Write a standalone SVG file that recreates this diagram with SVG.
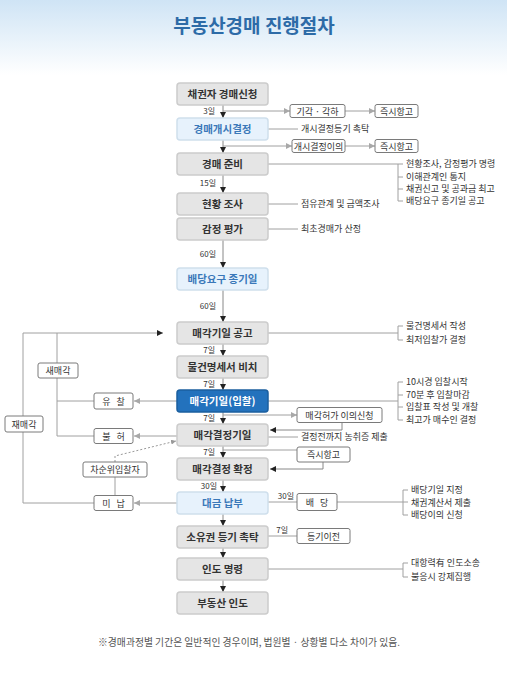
<svg xmlns="http://www.w3.org/2000/svg" width="507" height="677" viewBox="0 0 507 677">
<defs>
<linearGradient id="bg" x1="0" y1="0" x2="0" y2="1">
<stop offset="0" stop-color="#cfe4f5"/>
<stop offset="1" stop-color="#ffffff"/>
</linearGradient>
<marker id="ab" markerUnits="userSpaceOnUse" markerWidth="6" markerHeight="6" refX="6" refY="3" orient="auto">
<path d="M0,0 L6,3 L0,6 z" fill="#222"/>
</marker>
<marker id="ag" markerUnits="userSpaceOnUse" markerWidth="6" markerHeight="6" refX="6" refY="3" orient="auto">
<path d="M0,0 L6,3 L0,6 z" fill="#a8a8a8"/>
</marker>
<marker id="as" markerUnits="userSpaceOnUse" markerWidth="5" markerHeight="5" refX="5" refY="2.5" orient="auto">
<path d="M0,0 L5,2.5 L0,5 z" fill="#999"/>
</marker>
<style>
text{font-family:"Noto Sans CJK KR","Noto Sans",sans-serif;}
.m rect{fill:#e5e5e5;stroke:#cccccc;stroke-width:1.5;}
.m text{font-size:10.5px;font-weight:bold;fill:#333;text-anchor:middle;}
.lb rect{fill:#e7f2fc;stroke:#cfdfec;stroke-width:1.5;}
.lb text{font-size:10.5px;font-weight:bold;fill:#3a78b9;text-anchor:middle;}
.db rect{fill:#2372bd;stroke:#1b5f9f;stroke-width:1.5;}
.db text{font-size:10.5px;font-weight:bold;fill:#ffffff;text-anchor:middle;}
.s rect{fill:#ffffff;stroke:#7a7a7a;stroke-width:1;}
.s text{font-size:9px;fill:#333;text-anchor:middle;}
.t{font-size:9px;fill:#333;}
.d{font-size:8px;fill:#333;text-anchor:end;}
.ln{stroke:#a0a0a0;stroke-width:1;fill:none;}
.lk{stroke:#888;stroke-width:1;fill:none;}
</style>
</defs>
<rect x="0" y="0" width="507" height="677" fill="#ffffff"/>
<rect x="0" y="0" width="507" height="75" fill="url(#bg)"/>
<text x="254" y="33" text-anchor="middle" style="font-size:19px;font-weight:bold;fill:#2d6ba7;">부동산경매 진행절차</text>

<g id="connectors">
<line class="lk" x1="223" y1="105" x2="223" y2="118" marker-end="url(#ab)"/>
<line class="ln" x1="223" y1="111" x2="290" y2="111" marker-end="url(#ag)"/>
<line class="ln" x1="345" y1="111" x2="375" y2="111" marker-end="url(#ag)"/>
<line class="lk" x1="223" y1="140" x2="223" y2="153" marker-end="url(#ab)"/>
<line class="ln" x1="223" y1="146" x2="292" y2="146" marker-end="url(#ag)"/>
<line class="ln" x1="345" y1="146" x2="375" y2="146" marker-end="url(#ag)"/>
<line class="lk" x1="223" y1="175" x2="223" y2="193" marker-end="url(#ab)"/>
<line class="lk" x1="223" y1="240" x2="223" y2="268" marker-end="url(#ab)"/>
<line class="lk" x1="223" y1="290" x2="223" y2="322" marker-end="url(#ab)"/>
<line class="lk" x1="223" y1="344" x2="223" y2="356" marker-end="url(#ab)"/>
<line class="lk" x1="223" y1="378" x2="223" y2="390" marker-end="url(#ab)"/>
<line class="lk" x1="223" y1="412" x2="223" y2="424" marker-end="url(#ab)"/>
<line class="ln" x1="223" y1="415" x2="297" y2="415" marker-end="url(#ag)"/>
<polyline class="lk" points="342,422 342,430 270,430" marker-end="url(#ab)"/>
<line class="lk" x1="223" y1="446" x2="223" y2="458" marker-end="url(#ab)"/>
<line class="ln" x1="223" y1="450" x2="297" y2="450"/>
<polyline class="lk" points="323,462 323,469 270,469" marker-end="url(#ab)"/>
<line class="lk" x1="223" y1="480" x2="223" y2="492" marker-end="url(#ab)"/>
<line class="lk" x1="223" y1="514" x2="223" y2="526" marker-end="url(#ab)"/>
<line class="lk" x1="223" y1="548" x2="223" y2="558" marker-end="url(#ab)"/>
<line class="lk" x1="223" y1="580" x2="223" y2="592" marker-end="url(#ab)"/>
<line class="ln" x1="268" y1="129" x2="298" y2="129"/>
<line class="ln" x1="268" y1="164" x2="398" y2="164"/>
<path class="ln" d="M403,164 H398 V201 H403 M398,177 H403 M398,189 H403"/>
<line class="ln" x1="268" y1="204" x2="298" y2="204"/>
<line class="ln" x1="268" y1="229" x2="298" y2="229"/>
<line class="ln" x1="268" y1="333" x2="398" y2="333"/>
<path class="ln" d="M403,326 H398 V340 H403"/>
<line class="ln" x1="268" y1="401" x2="398" y2="401"/>
<path class="ln" d="M403,382 H398 V420 H403 M398,395 H403 M398,407 H403"/>
<line class="ln" x1="268" y1="437" x2="298" y2="437"/>
<line class="ln" x1="268" y1="502" x2="297" y2="502"/>
<line class="ln" x1="337" y1="502" x2="403" y2="502"/>
<path class="ln" d="M408,490 H403 V515 H408 M403,502 H408"/>
<line class="ln" x1="268" y1="536" x2="297" y2="536"/>
<line class="ln" x1="268" y1="569" x2="403" y2="569"/>
<path class="ln" d="M408,563 H403 V577 H408"/>
<line class="ln" x1="23" y1="333" x2="163" y2="333" marker-end="url(#ab)"/>
<line class="ln" x1="57" y1="333" x2="57" y2="363"/>
<line class="ln" x1="57" y1="378" x2="57" y2="436"/>
<line class="ln" x1="57" y1="401" x2="94" y2="401"/>
<line class="ln" x1="57" y1="436" x2="94" y2="436"/>
<line class="ln" x1="23" y1="333" x2="23" y2="416"/>
<line class="ln" x1="23" y1="432" x2="23" y2="503"/>
<line class="ln" x1="23" y1="503" x2="94" y2="503"/>
<line class="ln" x1="177" y1="401" x2="134" y2="401" marker-end="url(#ag)"/>
<line class="ln" x1="177" y1="436" x2="134" y2="436" marker-end="url(#ag)"/>
<line class="ln" x1="177" y1="503" x2="134" y2="503" marker-end="url(#ag)"/>
<line class="ln" x1="115" y1="477" x2="115" y2="495"/>
<polyline points="115,462 115,456 176,441" fill="none" stroke="#999" stroke-width="1" stroke-dasharray="2,2" marker-end="url(#as)"/>
</g>

<g id="days">
<text class="d" x="215" y="114">3일</text>
<text class="d" x="216" y="186">15일</text>
<text class="d" x="216" y="257">60일</text>
<text class="d" x="216" y="309">60일</text>
<text class="d" x="215" y="353">7일</text>
<text class="d" x="215" y="387">7일</text>
<text class="d" x="215" y="421">7일</text>
<text class="d" x="215" y="455">7일</text>
<text class="d" x="217" y="489">30일</text>
<text class="d" x="294" y="499">30일</text>
<text class="d" x="288" y="533">7일</text>
</g>

<g id="n1" class="m"><rect x="177" y="83" width="91" height="22" rx="3"/><text x="222.5" y="98">채권자 경매신청</text></g>
<g id="n2" class="lb"><rect x="177" y="118" width="91" height="22" rx="3"/><text x="222.5" y="133">경매개시결정</text></g>
<g id="n3" class="m"><rect x="177" y="153" width="91" height="22" rx="3"/><text x="222.5" y="168">경매 준비</text></g>
<g id="n4" class="m"><rect x="177" y="193" width="91" height="22" rx="3"/><text x="222.5" y="208">현황 조사</text></g>
<g id="n5" class="m"><rect x="177" y="218" width="91" height="22" rx="3"/><text x="222.5" y="233">감정 평가</text></g>
<g id="n6" class="lb"><rect x="177" y="268" width="91" height="22" rx="3"/><text x="222.5" y="283">배당요구 종기일</text></g>
<g id="n7" class="m"><rect x="177" y="322" width="91" height="22" rx="3"/><text x="222.5" y="337">매각기일 공고</text></g>
<g id="n8" class="m"><rect x="177" y="356" width="91" height="22" rx="3"/><text x="222.5" y="371">물건명세서 비치</text></g>
<g id="n9" class="db"><rect x="177" y="390" width="91" height="22" rx="3"/><text x="222.5" y="405">매각기일(입찰)</text></g>
<g id="n10" class="m"><rect x="177" y="424" width="91" height="22" rx="3"/><text x="222.5" y="439">매각결정기일</text></g>
<g id="n11" class="m"><rect x="177" y="458" width="91" height="22" rx="3"/><text x="222.5" y="473">매각결정 확정</text></g>
<g id="n12" class="lb"><rect x="177" y="492" width="91" height="22" rx="3"/><text x="222.5" y="507">대금 납부</text></g>
<g id="n13" class="m"><rect x="177" y="526" width="91" height="22" rx="3"/><text x="222.5" y="541">소유권 등기 촉탁</text></g>
<g id="n14" class="m"><rect x="177" y="558" width="91" height="22" rx="3"/><text x="222.5" y="573">인도 명령</text></g>
<g id="n15" class="m"><rect x="177" y="592" width="91" height="22" rx="3"/><text x="222.5" y="607">부동산 인도</text></g>

<g id="s1" class="s"><rect x="290" y="104.5" width="55" height="13" rx="2"/><text x="317.5" y="114.5">기각 · 각하</text></g>
<g id="s2" class="s"><rect x="375" y="104.5" width="43" height="13" rx="2"/><text x="396.5" y="114.5">즉시항고</text></g>
<g id="s3" class="s"><rect x="292" y="139.5" width="53" height="13" rx="2"/><text x="318.5" y="149.5">개시결정이의</text></g>
<g id="s4" class="s"><rect x="375" y="139.5" width="43" height="13" rx="2"/><text x="396.5" y="149.5">즉시항고</text></g>
<g id="s5" class="s"><rect x="297" y="407.5" width="85" height="15" rx="2"/><text x="339.5" y="418.5">매각허가 이의신청</text></g>
<g id="s6" class="s"><rect x="297" y="447" width="53" height="15" rx="2"/><text x="323.5" y="458">즉시항고</text></g>
<g id="s7" class="s"><rect x="297" y="493.5" width="40" height="17" rx="2"/><text x="317" y="505.5">배&#160;&#160;&#160;당</text></g>
<g id="s8" class="s"><rect x="297" y="528.5" width="53" height="15" rx="2"/><text x="323.5" y="539.5">등기이전</text></g>
<g id="s9" class="s"><rect x="94" y="393" width="39" height="16" rx="2"/><text x="113.5" y="404.5">유&#160;&#160;&#160;찰</text></g>
<g id="s10" class="s"><rect x="94" y="428.5" width="39" height="15" rx="2"/><text x="113.5" y="439.5">불&#160;&#160;&#160;허</text></g>
<g id="s11" class="s"><rect x="83" y="462" width="64" height="15" rx="2"/><text x="115" y="473">차순위입찰자</text></g>
<g id="s12" class="s"><rect x="94" y="495.5" width="39" height="15" rx="2"/><text x="113.5" y="506.5">미&#160;&#160;&#160;납</text></g>
<g id="s13" class="s"><rect x="38" y="363" width="40" height="15" rx="2"/><text x="58" y="374">새매각</text></g>
<g id="s14" class="s"><rect x="5" y="416" width="38" height="16" rx="2"/><text x="24" y="427.5">재매각</text></g>

<g id="notes">
<text class="t" x="301" y="132">개시결정등기 촉탁</text>
<text class="t" x="406" y="167">현황조사, 감정평가 명령</text>
<text class="t" x="406" y="180">이해관계인 통지</text>
<text class="t" x="406" y="192">채권신고 및 공과금 최고</text>
<text class="t" x="406" y="204">배당요구 종기일 공고</text>
<text class="t" x="301" y="207">점유관계 및 금액조사</text>
<text class="t" x="301" y="232">최초경매가 산정</text>
<text class="t" x="406" y="329">물건명세서 작성</text>
<text class="t" x="406" y="343">최저입찰가 결정</text>
<text class="t" x="406" y="385">10시경 입찰시작</text>
<text class="t" x="406" y="398">70분 후 입찰마감</text>
<text class="t" x="406" y="410">입찰표 작성 및 개찰</text>
<text class="t" x="406" y="423">최고가 매수인 결정</text>
<text class="t" x="301" y="440">결정전까지 농취증 제출</text>
<text class="t" x="411" y="493">배당기일 지정</text>
<text class="t" x="411" y="506">채권계산서 제출</text>
<text class="t" x="411" y="518">배당이의 신청</text>
<text class="t" x="411" y="566">대항력有 인도소송</text>
<text class="t" x="411" y="580">불응시 강제집행</text>
</g>
<text x="249" y="646" text-anchor="middle" style="font-size:9.8px;fill:#555;">※경매과정별 기간은 일반적인 경우이며, 법원별 · 상황별 다소 차이가 있음.</text>
</svg>
